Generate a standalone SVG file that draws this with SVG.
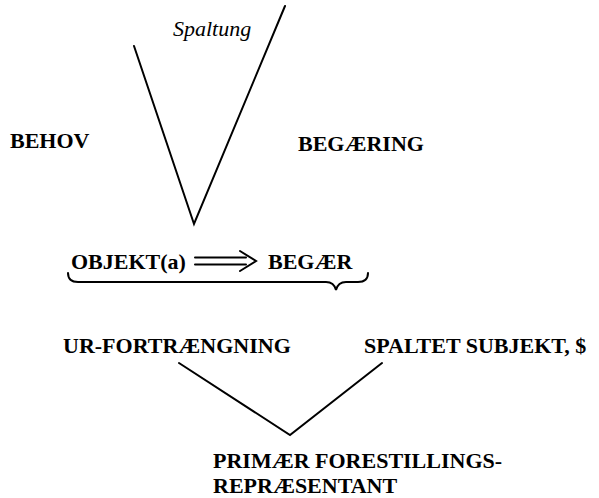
<svg xmlns="http://www.w3.org/2000/svg" width="599" height="498" viewBox="0 0 599 498">
<style>
  .lbl { font-family: "Liberation Serif", "Times New Roman", serif; font-weight: bold; font-size: 22px; fill: #000; }
  .it { font-family: "Liberation Serif", "Times New Roman", serif; font-style: italic; font-size: 22px; fill: #000; }
  .ln { fill: none; stroke: #000; stroke-width: 2; stroke-linecap: round; stroke-linejoin: miter; }
</style>
<rect width="599" height="498" fill="#fff"/>
<g id="connectors">
  <path class="ln" d="M134,46 L194,224 L285,6"/>
  <path class="ln" d="M179,363 L290,435 L382,363"/>
  <path class="ln" d="M195,257.5 H246 M195,264.5 H246 M240,251 L256,261 L240,271" stroke-linejoin="miter"/>
  <path class="ln" d="M68,273 Q68,282 78,282 H326 Q334,282 336,290 Q338,282 346,282 H358 Q368,282 368,273"/>
</g>
<g id="spaltung"><text class="it" x="173" y="36">Spaltung</text></g>
<g id="behov"><text class="lbl" x="10" y="148">BEHOV</text></g>
<g id="begaering"><text class="lbl" x="298" y="151">BEGÆRING</text></g>
<g id="objekt"><text class="lbl" x="71" y="269">OBJEKT(a)</text></g>
<g id="begaer"><text class="lbl" x="268" y="269">BEGÆR</text></g>
<g id="urfortraengning"><text class="lbl" x="63" y="353">UR-FORTRÆNGNING</text></g>
<g id="spaltet"><text class="lbl" x="364" y="353">SPALTET SUBJEKT, $</text></g>
<g id="primaer"><text class="lbl" x="213" y="468">PRIMÆR FORESTILLINGS-</text><text class="lbl" x="213" y="493">REPRÆSENTANT</text></g>
</svg>
